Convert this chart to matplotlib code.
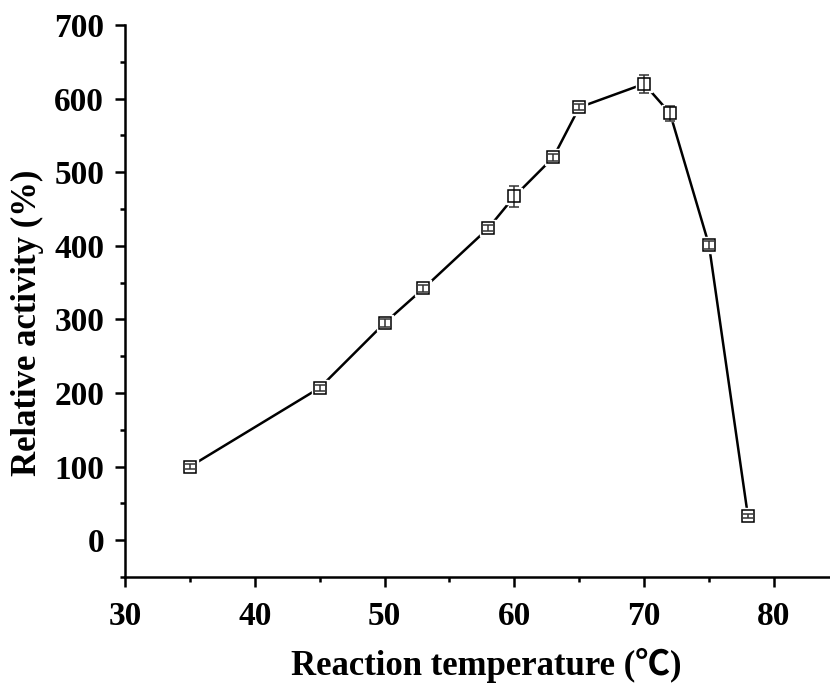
import numpy as np
import matplotlib.pyplot as plt
from matplotlib.ticker import MultipleLocator

# data
temp = [35, 45, 50, 53, 58, 60, 63, 65, 70, 72, 75, 78]
activity = [100, 207, 295, 342, 424, 467, 520, 588, 620, 580, 401, 33]
err = [3, 4, 5, 5, 4, 14, 5, 4, 12, 10, 5, 3]

plt.rcParams['font.family'] = ['Liberation Serif', 'Noto Sans CJK SC']
plt.rcParams['font.weight'] = 'bold'

fig = plt.figure(figsize=(8.3, 6.88), dpi=100)
ax = fig.add_axes([0.1506, 0.1613, 0.849, 0.8024])

ax.plot(temp, activity, color='black', lw=1.8, zorder=1)
# white halo -> small gap between line and marker, like the original
ax.plot(temp, activity, 's', ms=12, mfc='white', mec='white', ls='none', zorder=2)
ax.errorbar(temp, activity, yerr=err, fmt='none', ecolor='#333333', elinewidth=1.1,
            capsize=3.8, capthick=1.1, zorder=3)
ax.plot(temp, activity, 's', ms=8, mfc='none', mec='black', mew=1.1, ls='none', zorder=4)

ax.set_xlim(30, 84.3)
ax.set_ylim(-50, 700)
ax.xaxis.set_major_locator(MultipleLocator(10))
ax.xaxis.set_minor_locator(MultipleLocator(5))
ax.yaxis.set_major_locator(MultipleLocator(100))
ax.yaxis.set_minor_locator(MultipleLocator(50))

for s in ['top', 'right']:
    ax.spines[s].set_visible(False)
for s in ['left', 'bottom']:
    ax.spines[s].set_linewidth(1.8)

ax.tick_params(which='major', direction='out', length=7, width=1.8, labelsize=24)
ax.tick_params(which='minor', direction='out', length=3.5, width=1.8)
ax.tick_params(axis='y', which='major', pad=8)
ax.tick_params(axis='x', which='major', pad=10)

ax.set_xlabel('Reaction temperature (℃)', fontsize=25, fontweight='bold')
ax.set_ylabel('Relative activity (%)', fontsize=25, fontweight='bold')
ax.xaxis.set_label_coords(0.513, -0.128)
ax.yaxis.set_label_coords(-0.115, 0.46)

fig.savefig('out.png', dpi=100)
